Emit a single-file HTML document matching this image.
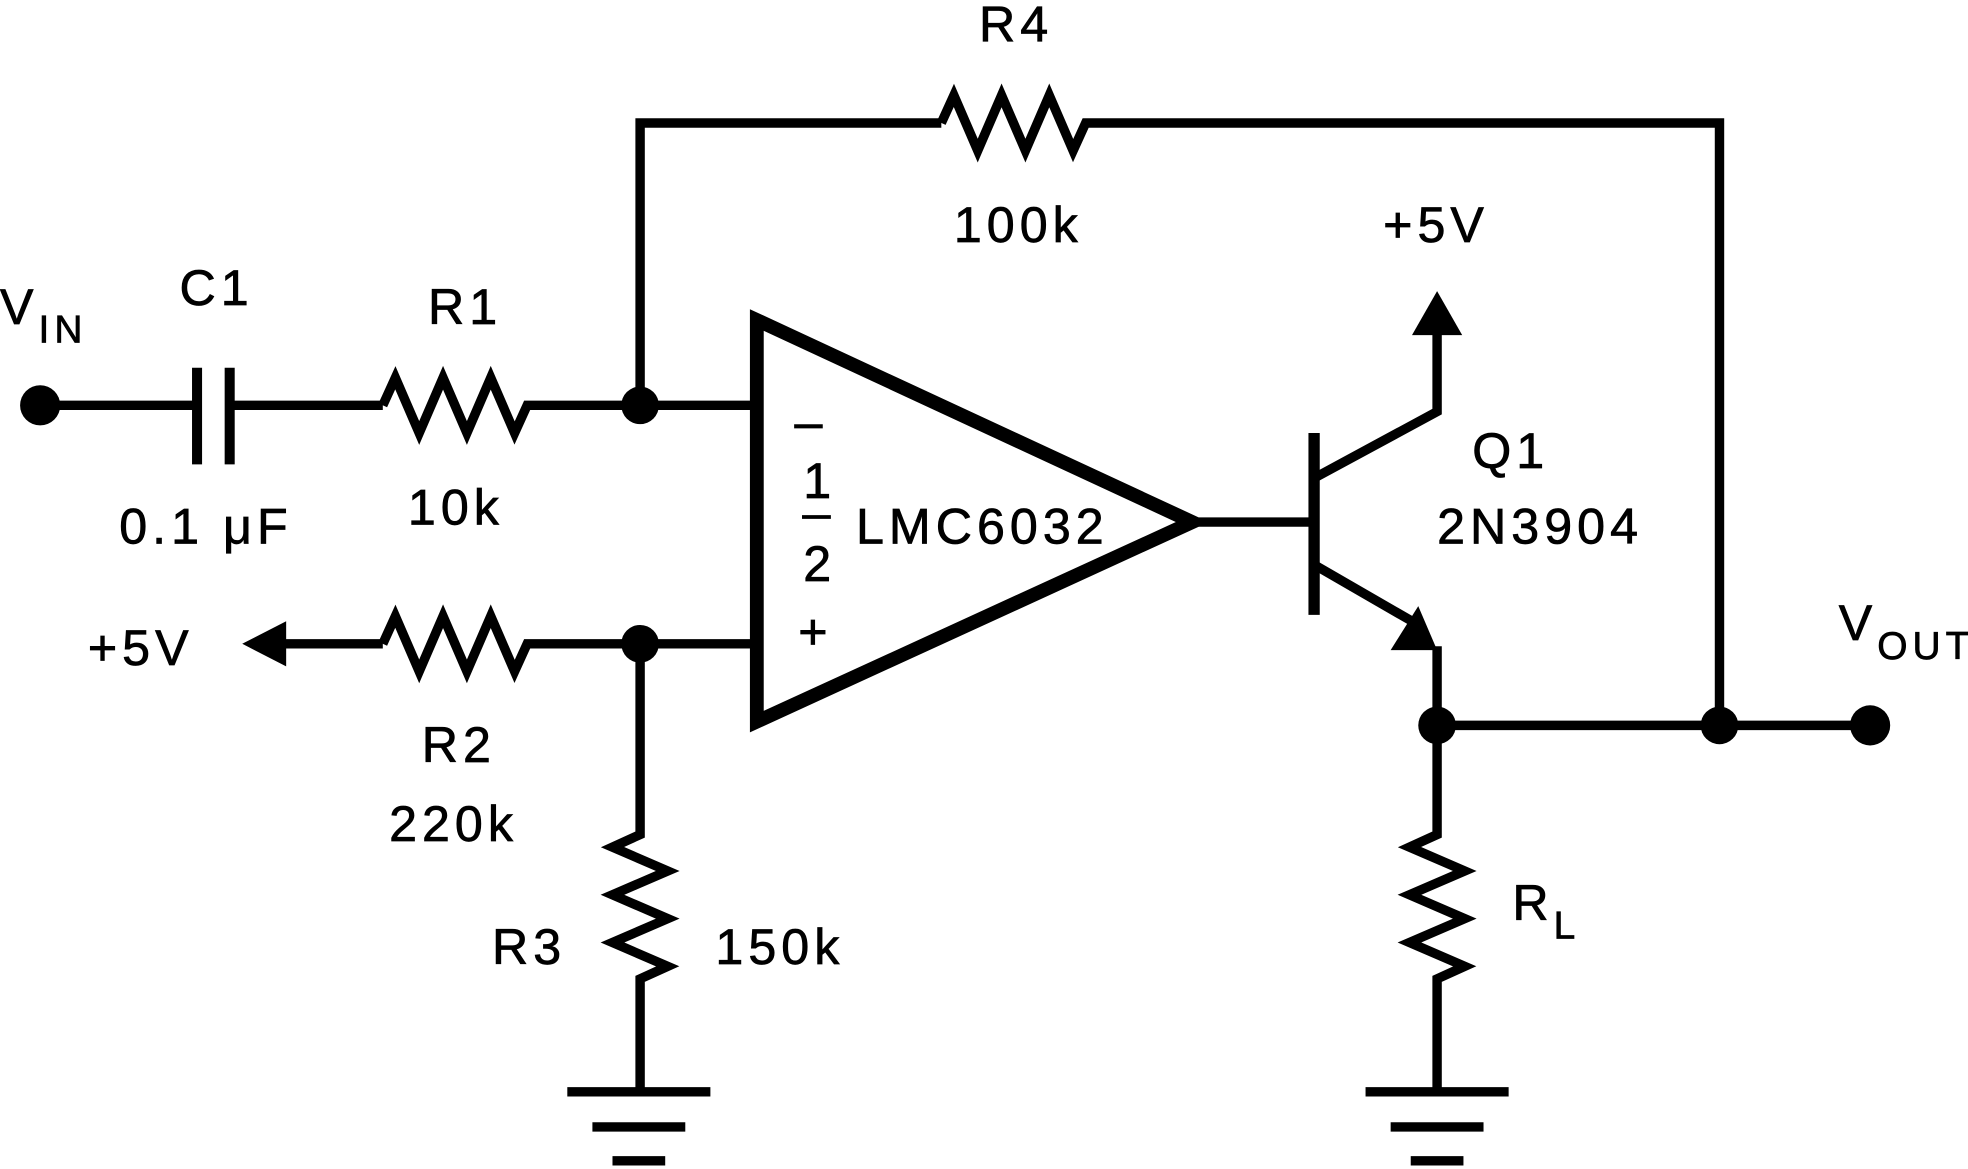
<!DOCTYPE html>
<html><head><style>html,body{margin:0;padding:0;background:#fff}svg{display:block}text{font-family:"Liberation Sans",sans-serif;font-size:40px;fill:#000;letter-spacing:4px;stroke:#000;stroke-width:0.6}</style></head>
<body>
<svg width="1968" height="1169" viewBox="0 0 1568 931.5" preserveAspectRatio="none" xmlns="http://www.w3.org/2000/svg">
<g stroke="#000" stroke-width="7.5" fill="none" stroke-linejoin="miter">
<path d="M32 323H157M183 323H305"/>
<path d="M157 293V370M183 293V370" stroke-width="8"/>
<path d="M305 323l10 -22l19 44l19 -44l19 44l19 -44l19 44l10 -22H600"/>
<path d="M510 323V98H750"/>
<path d="M750 98l10 -22l19 44l19 -44l19 44l19 -44l19 44l10 -22H1370V578"/>
<path d="M215 513H305"/>
<path d="M305 513l10 -22l19 44l19 -44l19 44l19 -44l19 44l10 -22H600"/>
<path d="M510 513V665l-22 10l44 19l-44 19l44 19l-44 19l44 19l-22 10V868"/>
<path d="M452 870H566M472 898H546M488 925H530"/>
<path d="M603 255V575L950 416Z" stroke-width="11"/>
<path d="M955 416H1047"/>
<path d="M1047 345V490" stroke-width="9"/>
<path d="M1047 381L1145 328V262"/>
<path d="M1047 450L1125 495"/>
<path d="M1145 515V578H1490"/>
<path d="M1145 578V665l-22 10l44 19l-44 19l44 19l-44 19l44 19l-22 10V868"/>
<path d="M1088 870H1202M1108 898H1182M1124 925H1166"/>
</g>
<g fill="#000">
<circle cx="32" cy="323" r="16"/>
<circle cx="510" cy="323" r="15"/>
<circle cx="510" cy="513" r="15"/>
<circle cx="1145" cy="578" r="15"/>
<circle cx="1370" cy="578" r="15"/>
<circle cx="1490" cy="578" r="16"/>
<polygon points="1145,232 1125,267 1165,267"/>
<polygon points="193,513 228,495 228,531"/>
<polygon points="1145,518 1108,518 1130,483"/>
</g>
<text x="780" y="33">R4</text>
<text x="760" y="193">100k</text>
<text x="1102" y="193">+5V</text>
<text x="143" y="243">C1</text>
<text x="341" y="258">R1</text>
<text x="0" y="258">V<tspan font-size="31" dy="15">IN</tspan></text>
<text x="95" y="433" letter-spacing="7">0.1 μF</text>
<text x="325" y="418">10k</text>
<text x="633" y="350">–</text>
<text x="640" y="397" font-size="35">1</text>
<path d="M639 412H662" stroke="#000" stroke-width="3"/>
<text x="640" y="463" font-size="35">2</text>
<text x="682" y="433">LMC6032</text>
<text x="1173" y="373">Q1</text>
<text x="1145" y="433">2N3904</text>
<text x="1465" y="510">V<tspan font-size="31" dy="15">OUT</tspan></text>
<text x="70" y="530">+5V</text>
<text x="636" y="517">+</text>
<text x="336" y="607">R2</text>
<text x="310" y="670">220k</text>
<text x="392" y="768">R3</text>
<text x="570" y="768">150k</text>
<text x="1205" y="733">R<tspan font-size="31" dy="15">L</tspan></text>
</svg>
</body></html>
